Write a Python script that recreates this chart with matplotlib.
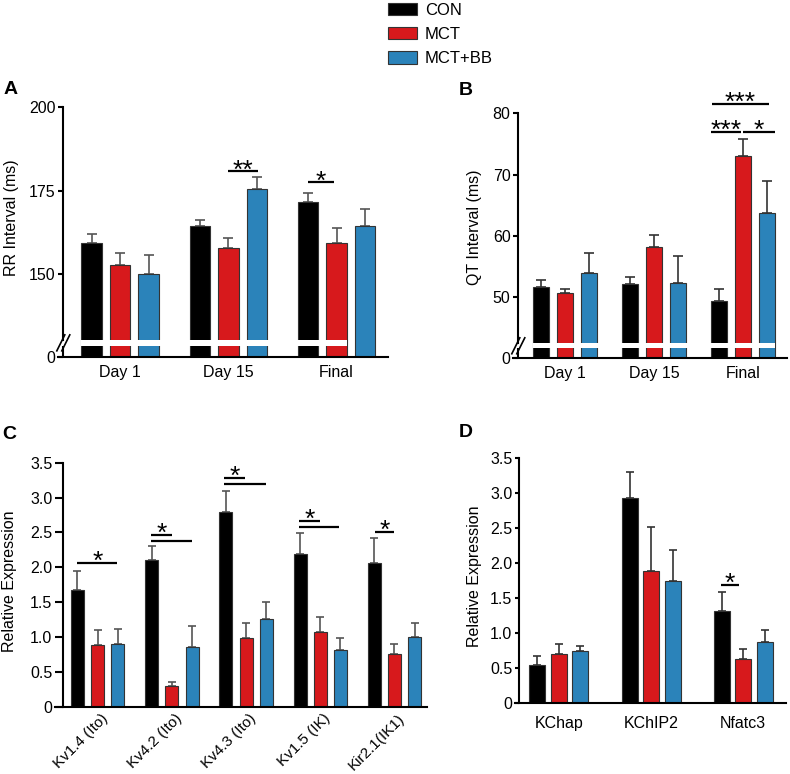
import numpy as np
import matplotlib
matplotlib.use("Agg")
import matplotlib.pyplot as plt
from matplotlib.patches import Patch, Rectangle
from matplotlib.transforms import ScaledTranslation

plt.rcParams['font.family'] = ['Liberation Sans', 'DejaVu Sans']

# ---------------- data ----------------
series_names = ['CON', 'MCT', 'MCT+BB']
series_colors = ['#000000', '#D7191C', '#2B83BA']

days = ['Day 1', 'Day 15', 'Final']
rr_con = [159.5, 164.5, 171.7]
rr_con_err = [2.7, 1.8, 2.7]
rr_mct = [152.7, 158.0, 159.5]
rr_mct_err = [3.6, 2.8, 4.5]
rr_bb = [150.0, 175.4, 164.5]
rr_bb_err = [5.9, 3.6, 5.0]

qt_con = [51.6, 52.1, 49.4]
qt_con_err = [1.2, 1.2, 2.0]
qt_mct = [50.75, 58.15, 73.0]
qt_mct_err = [0.65, 2.05, 2.8]
qt_bb = [54.0, 52.4, 63.75]
qt_bb_err = [3.2, 4.4, 5.15]

genes_c = ['Kv1.4 (Ito)', 'Kv4.2 (Ito)', 'Kv4.3 (Ito)', 'Kv1.5 (IK)', 'Kir2.1(IK1)']
c_con = [1.67, 2.10, 2.79, 2.19, 2.06]
c_con_err = [0.28, 0.21, 0.30, 0.30, 0.36]
c_mct = [0.88, 0.30, 0.99, 1.07, 0.75]
c_mct_err = [0.22, 0.06, 0.21, 0.22, 0.15]
c_bb = [0.90, 0.86, 1.26, 0.81, 1.00]
c_bb_err = [0.22, 0.30, 0.24, 0.17, 0.20]

genes_d = ['KChap', 'KChIP2', 'Nfatc3']
d_con = [0.55, 2.93, 1.31]
d_con_err = [0.12, 0.37, 0.27]
d_mct = [0.70, 1.88, 0.63]
d_mct_err = [0.14, 0.63, 0.14]
d_bb = [0.74, 1.74, 0.88]
d_bb_err = [0.08, 0.45, 0.16]

# significance: (group, slot_start, slot_end, y, label)
sig_a = [(1, 0.99, 2.04, 180.7, '**'), (2, 0.0, 0.92, 177.5, '*')]
sig_b = [(2, -0.32, 2.08, 81.5, '***'), (2, -0.33, 0.89, 77.0, '***'),
         (2, 1.0, 2.32, 77.0, '*')]
sig_c = [(0, -0.01, 1.97, 2.06, '*'),
         (1, -0.03, 1.0, 2.47, '*'), (1, -0.03, 2.02, 2.38, ''),
         (2, -0.10, 0.95, 3.28, '*'), (2, -0.10, 1.98, 3.195, ''),
         (3, -0.06, 1.0, 2.664, '*'), (3, -0.06, 1.92, 2.583, ''),
         (4, 0.03, 0.99, 2.51, '*')]
sig_d = [(2, -0.05, 0.8, 1.686, '*')]

# ---------------- layout helpers ----------------
W, H = 790, 774
fig = plt.figure(figsize=(W / 100, H / 100), dpi=100)
FS = 11.5


def add_ax(x0, x1, ytop, ybot):
    return fig.add_axes([x0 / W, 1 - ybot / H, (x1 - x0) / W, (ybot - ytop) / H])


def break_scale(ax, brk, low):
    def fwd(v):
        v = np.asarray(v, float)
        return np.where(v >= brk, v, low + v * (brk - low) / brk)

    def inv(u):
        u = np.asarray(u, float)
        return np.where(u >= brk, u, (u - low) * brk / (brk - low))
    ax.set_yscale('function', functions=(fwd, inv))


def draw_bars(ax, vals, errs, step, width, cap, ecol):
    n = len(vals[0])
    x = np.arange(n)
    for k, (v, e, col) in enumerate(zip(vals, errs, series_colors)):
        xs = x + (k - 1) * step
        ax.errorbar(xs, v, yerr=[np.zeros(n), e], fmt='none', ecolor=ecol,
                    elinewidth=1.2, capsize=cap, capthick=1.2, zorder=1.5)
        ax.bar(xs, v, width=width, color=col, edgecolor='#333333',
               linewidth=0.8, zorder=2, label=series_names[k])


def draw_sig(ax, sigs, step, fs=19):
    for g, k0, k1, y, lab in sigs:
        xa = g + (k0 - 1) * step
        xb = g + (k1 - 1) * step
        ax.plot([xa, xb], [y, y], color='black', lw=1.6, clip_on=False,
                solid_capstyle='butt', zorder=4)
        if lab:
            ax.annotate(lab, xy=((xa + xb) / 2, y), xytext=(0, -4.5),
                        textcoords='offset points', ha='center', va='baseline',
                        fontsize=fs, annotation_clip=False)


def style_ax(ax, spine_frac, ticklen, yfs, xfs, xpad):
    for s in ['top', 'right']:
        ax.spines[s].set_visible(False)
    for s in ['left', 'bottom']:
        ax.spines[s].set_linewidth(1.5)
    ax.spines['left'].set_position(('axes', spine_frac))
    ax.tick_params(axis='y', length=ticklen, width=1.5, labelsize=yfs, pad=2)
    ax.tick_params(axis='x', length=0, labelsize=xfs, pad=xpad)


def axis_break(ax, spine_frac, wpx, hpx, gap_lo, gap_hi, x0, x1):
    # white band across bars
    ax.add_patch(Rectangle((x0, gap_lo), x1 - x0, gap_hi - gap_lo,
                           transform=ax.get_xaxis_transform(),
                           facecolor='white', edgecolor='none', zorder=3))
    # spine: upper part via bounds, lower short piece drawn
    ax.spines['left'].set_bounds(ax.get_yaxis_transform().inverted().transform(
        ax.transAxes.transform((0, gap_hi)))[1], ax.get_ylim()[1])
    ax.plot([spine_frac, spine_frac], [0, gap_lo], transform=ax.transAxes,
            color='black', lw=1.5, clip_on=False, solid_capstyle='butt')
    yc = (gap_lo + gap_hi) / 2
    for off in (-2.5, 2.5):
        xs = [spine_frac + (off - 4) / wpx, spine_frac + (off + 4) / wpx]
        ys = [yc - 8 / hpx, yc + 8 / hpx]
        ax.plot(xs, ys, transform=ax.transAxes, color='black', lw=1.2,
                clip_on=False)


# ---------------- Panel A ----------------
axA = add_ax(58.3, 388, 106.7, 356.7)
break_scale(axA, 130.5, 125.5)
stepA, widthA = 0.2632, 0.19
draw_bars(axA, [rr_con, rr_mct, rr_bb], [rr_con_err, rr_mct_err, rr_bb_err],
          stepA, widthA, 3.6, '#555555')
axA.set_ylim(0, 200)
axA.set_xlim(-0.570, 2.475)
axA.set_yticks([0, 150, 175, 200])
axA.set_xticks(range(len(days)), days)
fA = 5 / 329.7
style_ax(axA, fA, 3.6, FS, FS, 6)
axis_break(axA, fA, 329.7, 250, 0.044, 0.0668,
           0 - stepA - widthA / 2, 2 + widthA / 2)
draw_sig(axA, sig_a, stepA)

# ---------------- Panel B ----------------
axB = add_ax(513, 786.7, 113.3, 357.7)
break_scale(axB, 42.5, 40.15)
stepB, widthB = 0.269, 0.179
draw_bars(axB, [qt_con, qt_mct, qt_bb], [qt_con_err, qt_mct_err, qt_bb_err],
          stepB, widthB, 3.6, '#333333')
axB.set_ylim(0, 80)
axB.set_xlim(-0.579, 2.486)
axB.set_yticks([0, 50, 60, 70, 80])
axB.set_xticks(range(len(days)), days)
fB = 5.3 / 273.7
style_ax(axB, fB, 3.6, FS, FS, 6)
axis_break(axB, fB, 273.7, 244.4, 0.0385, 0.059,
           0 - stepB - widthB / 2, 2 + stepB + widthB / 2)
draw_sig(axB, sig_b, stepB)

# ---------------- Panel C ----------------
axC = add_ax(55, 427, 462.7, 706.7)
stepC, widthC = 0.272, 0.175
draw_bars(axC, [c_con, c_mct, c_bb], [c_con_err, c_mct_err, c_bb_err],
          stepC, widthC, 2.6, '#555555')
axC.set_ylim(0, 3.5)
axC.set_xlim(-0.575, 4.438)
axC.set_yticks(np.arange(0, 3.51, 0.5), ['0', '0.5', '1.0', '1.5', '2.0', '2.5', '3.0', '3.5'])
axC.set_xticks(range(len(genes_c)), genes_c, rotation=45, ha='right',
               rotation_mode='anchor', va='center')
fC = 8.3 / 372
style_ax(axC, fC, 5.8, FS, 11, 7)
for lbl in axC.get_xticklabels():
    lbl.set_transform(lbl.get_transform() + ScaledTranslation(8 / 100, 0, fig.dpi_scale_trans))
draw_sig(axC, sig_c, stepC)

# ---------------- Panel D ----------------
axD = add_ax(515, 786, 457.7, 703.3)
stepD, widthD = 0.233, 0.173
draw_bars(axD, [d_con, d_mct, d_bb], [d_con_err, d_mct_err, d_bb_err],
          stepD, widthD, 3.0, '#333333')
axD.set_ylim(0, 3.5)
axD.set_xlim(-0.475, 2.463)
axD.set_yticks(np.arange(0, 3.51, 0.5), ['0', '0.5', '1.0', '1.5', '2.0', '2.5', '3.0', '3.5'])
axD.set_xticks(range(len(genes_d)), genes_d)
fD = 4.3 / 271
style_ax(axD, fD, 3.1, FS, FS, 9)
draw_sig(axD, sig_d, stepD)

# ---------------- labels ----------------
fig.text(11.5 / W, 1 - 218 / H, 'RR Interval (ms)', rotation=90, ha='center', va='center', fontsize=FS)
fig.text(475 / W, 1 - 227.5 / H, 'QT Interval (ms)', rotation=90, ha='center', va='center', fontsize=FS)
fig.text(9.3 / W, 1 - 581.7 / H, 'Relative Expression', rotation=90, ha='center', va='center', fontsize=FS)
fig.text(474.3 / W, 1 - 576.5 / H, 'Relative Expression', rotation=90, ha='center', va='center', fontsize=FS)

for txt, x, y in [('A', 4, 81), ('B', 459, 82), ('C', 2, 426), ('D', 459, 424)]:
    fig.text(x / W, 1 - y / H, txt, fontsize=14, fontweight='bold', ha='left', va='top')

handles = [Patch(facecolor=c, edgecolor='#333333', linewidth=0.8) for c in series_colors]
fig.legend(handles, series_names, loc='upper left', bbox_to_anchor=(388 / W, 1 - 3 / H),
           frameon=False, fontsize=12, handlelength=1.75, handleheight=0.75,
           handletextpad=0.45, labelspacing=0.55, borderaxespad=0, borderpad=0)

fig.savefig('out.png', dpi=100)
